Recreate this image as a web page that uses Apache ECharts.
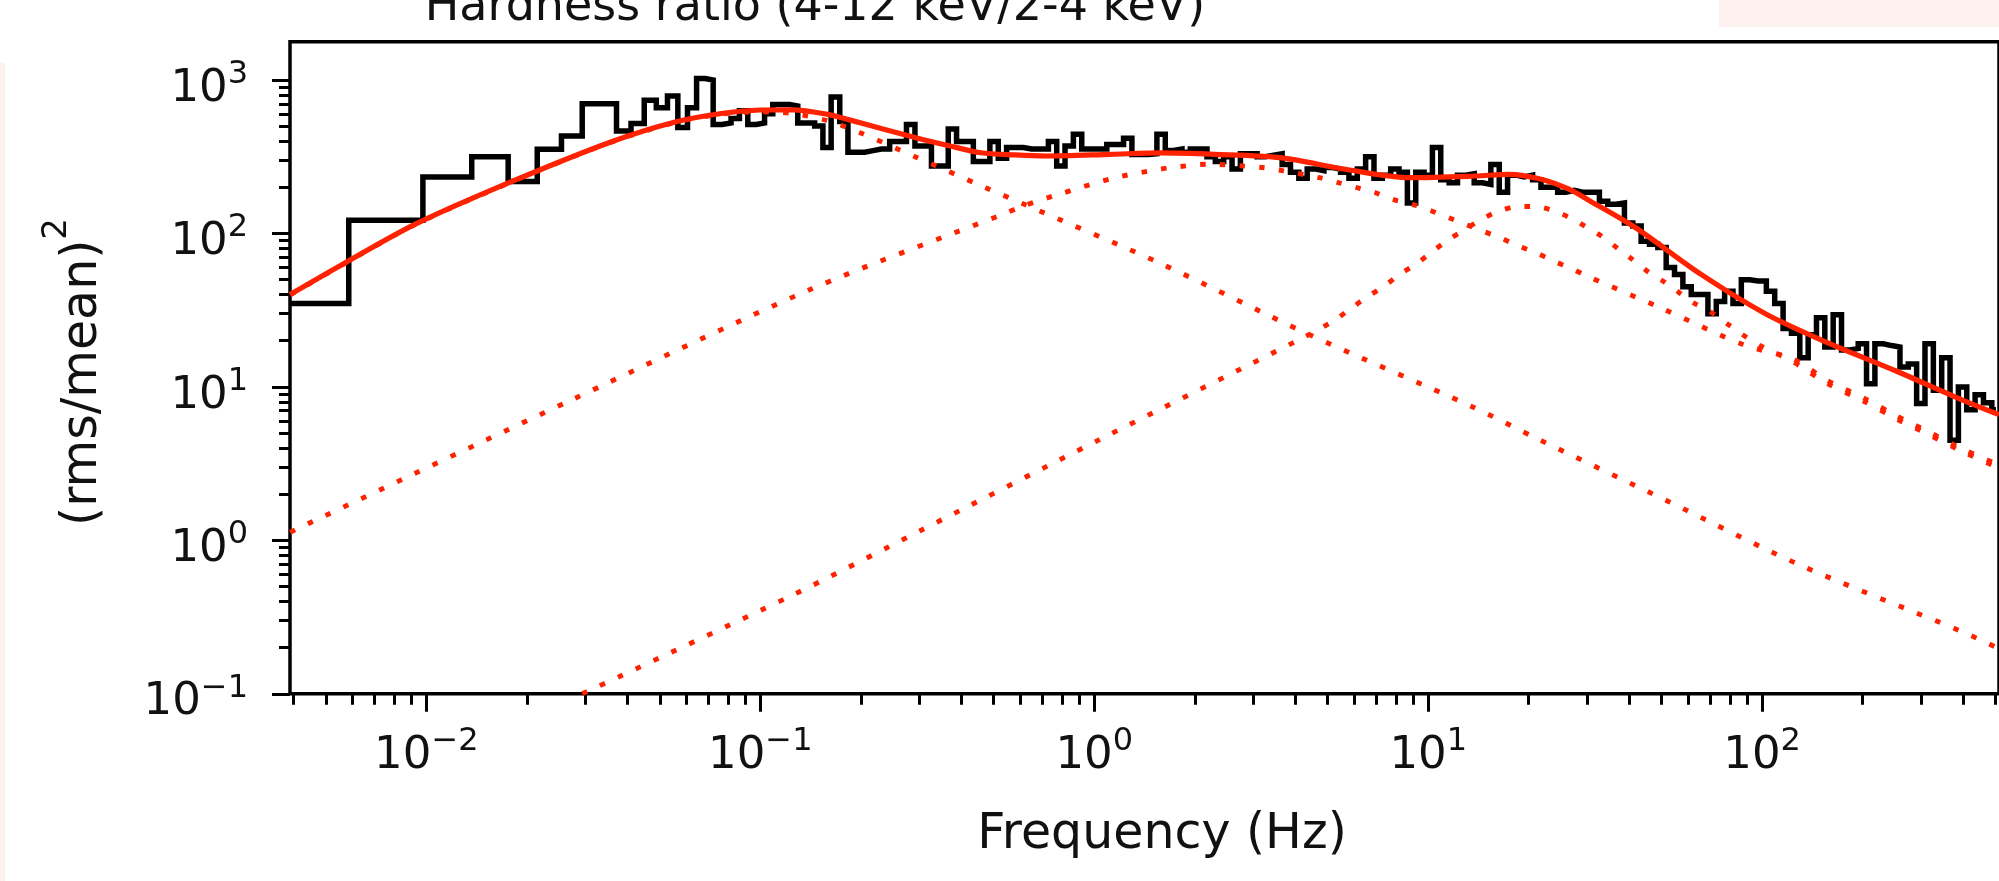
<!DOCTYPE html>
<html>
<head>
<meta charset="utf-8">
<script src="https://cdn.jsdelivr.net/npm/echarts@6/dist/echarts.min.js"></script>
<style>
  html, body { margin: 0; padding: 0; background: #ffffff; }
  #chart { width: 1999px; height: 881px; }
</style>
</head>
<body>
<div id="chart"></div>
<script>
// ---- power spectrum (bin centre frequency in Hz, power in (rms/mean)^2) ----
const PSD_FREQ = [
  0.00390625, 0.00781, 0.01172, 0.01563, 0.01953, 0.02344, 0.02734, 0.03125, 0.03516, 0.03906,
  0.04297, 0.04688, 0.05078, 0.05469, 0.05859, 0.0625, 0.06641, 0.07031, 0.07422,
  0.0794, 0.0841, 0.0891, 0.0944, 0.100, 0.106, 0.112, 0.119, 0.126, 0.133,
  0.141, 0.150, 0.158, 0.168, 0.178, 0.188, 0.200, 0.211, 0.224, 0.237,
  0.251, 0.266, 0.282, 0.299, 0.316, 0.335, 0.355, 0.376, 0.398, 0.422,
  0.447, 0.473, 0.501, 0.531, 0.562, 0.596, 0.631, 0.668, 0.708, 0.750,
  0.794, 0.841, 0.891, 0.944, 1.000, 1.059, 1.122, 1.189, 1.259, 1.334,
  1.413, 1.496, 1.585, 1.679, 1.778, 1.884, 1.995, 2.113, 2.239, 2.371,
  2.512, 2.661, 2.818, 2.985, 3.162, 3.350, 3.548, 3.758, 3.981, 4.217,
  4.467, 4.732, 5.012, 5.309, 5.623, 5.957, 6.310, 6.683, 7.079, 7.499,
  7.943, 8.414, 8.913, 9.441, 10.00, 10.59, 11.22, 11.89, 12.59, 13.34,
  14.13, 14.96, 15.85, 16.79, 17.78, 18.84, 19.95, 21.13, 22.39, 23.71,
  25.12, 26.61, 28.18, 29.85, 31.62, 33.50, 35.48, 37.58, 39.81, 42.17,
  44.67, 47.32, 50.12, 53.09, 56.23, 59.57, 63.10, 66.83, 70.79, 74.99,
  79.43, 84.14, 89.13, 94.41, 100.0, 105.9, 112.2, 118.9, 125.9, 133.4,
  141.3, 149.6, 158.5, 167.9, 177.8, 188.4, 199.5, 211.3, 223.9, 237.1,
  251.2, 266.1, 281.8, 298.5, 316.2, 335.0, 354.8, 375.8, 398.1, 421.7,
  446.7, 473.2, 501.2
];
const PSD_POWER = [
  35, 122, 233, 316, 218, 354, 432, 701, 701, 466,
  520, 738, 661, 787, 490, 661, 1023, 1000, 513,
  525, 562, 631, 513, 525, 603, 692, 692, 676, 525,
  525, 501, 363, 776, 537, 339, 339, 347, 355, 355,
  398, 398, 513, 372, 372, 275, 275, 479, 398, 398,
  295, 295, 398, 309, 363, 363, 355, 355, 355, 398,
  275, 372, 443, 355, 355, 355, 380, 380, 417, 327,
  327, 331, 443, 347, 355, 339, 355, 355, 316, 295,
  316, 263, 331, 331, 316, 324, 331, 282, 251, 229,
  263, 257, 269, 263, 251, 229, 263, 316, 229, 240,
  263, 251, 158, 251, 240, 363, 224, 214, 240, 245,
  214, 209, 282, 186, 240, 234, 240, 224, 200, 200,
  186, 191, 186, 186, 186, 162, 155, 158, 117, 112,
  89, 85, 81, 60, 54, 45, 40, 40, 30, 36,
  42, 35, 50, 49, 49, 42, 35, 24, 22.4, 15.5,
  21.9, 28.2, 18.2, 29.5, 17.4, 17.8, 19.1, 10.5, 19.1, 18.6,
  18.2, 13.5, 14.1, 7.8, 19.1, 9.5, 15.5, 4.5, 10, 7.1,
  8.9, 7.9, 7.1
];

// ---- fitted model: total and its three Lorentzian components ----
const MODEL_FREQ = [
  0.00391, 0.00562, 0.00927, 0.0182, 0.0357, 0.056, 0.0783, 0.100, 0.125, 0.158,
  0.186, 0.233, 0.292, 0.370, 0.457, 0.580, 0.716, 1.12, 1.58, 2.29,
  3.61, 5.65, 8.87, 13.9, 17.4, 21.8, 26.3, 30.5, 41.8, 65.5,
  102.6, 160.7, 251.8, 391.7, 512
];
const MODEL_TOTAL = [
  40, 63, 115, 220, 395, 535, 610, 638, 640, 600,
  548, 479, 421, 372, 336, 325, 320, 328, 335, 328,
  312, 262, 231, 237, 243, 226, 195, 163, 109, 54.3,
  29.9, 19.0, 12.7, 8.34, 6.6
];

const LOW_FREQ = [
  0.00391, 0.00562, 0.00927, 0.0182, 0.0357, 0.056, 0.0783, 0.100, 0.125, 0.158,
  0.199, 0.292, 0.473, 0.612, 1.55, 4.39, 13.6, 21.2, 52.2, 128,
  392, 512
];
const LOW_POWER = [
  39.8, 62.7, 114.5, 219, 393, 531, 603, 620, 605, 545,
  454, 315, 199, 156, 65, 22, 7.4, 4.6, 1.8, 0.70,
  0.257, 0.197
];

const MID_FREQ = [
  0.00391, 0.0268, 0.142, 0.535, 0.612, 0.783, 1.135, 1.47, 1.68, 2.2,
  2.82, 3.23, 3.69, 4.72, 5.41, 6.12, 6.92, 7.83, 8.97, 10.1,
  11.5, 12.9, 14.5, 16.4, 18.6, 21.0, 23.8, 26.9, 29.8, 48.8,
  88.7, 123, 157, 201, 252, 315, 392, 512
];
const MID_POWER = [
  1.13, 8.1, 43.4, 134, 151, 180, 229, 256, 268, 283,
  275, 268, 256, 231, 214, 199, 185, 167, 155, 142,
  127, 115, 104, 94, 83, 75, 66, 59, 53, 33.3,
  18.7, 15.3, 11.0, 8.5, 6.5, 5.1, 4.0, 3.1
];

const HIGH_FREQ = [
  0.0293, 0.125, 0.300, 1.03, 4.23, 5.22, 5.92, 6.62, 7.41, 8.2,
  9.18, 10.2, 11.4, 12.7, 14.2, 15.9, 18.2, 20.6, 23.5, 26.5,
  29.8, 33.3, 37.2, 40.8, 45.7, 51.2, 56.6, 62.7, 70.1, 80.2,
  87.7, 98, 123, 157, 201, 252, 315, 392, 512
];
const HIGH_POWER = [
  0.1, 0.44, 1.15, 4.5, 21, 27, 33, 39, 45.6, 54,
  63, 75, 90, 104, 121, 137, 149, 150, 142, 127,
  110, 95, 79, 68, 56, 48, 41, 35, 30.8, 25,
  21.8, 18.7, 14.7, 10.5, 8.1, 6.2, 4.9, 3.85, 2.95
];

// ---- axes ----
const X_MIN = 0.00390625, X_MAX = 512;
const Y_MIN = 0.1, Y_MAX = 1778;
const X_MAJOR = [0.01, 0.1, 1, 10, 100];
const X_MINOR = [
  0.004, 0.005, 0.006, 0.007, 0.008, 0.009,
  0.02, 0.03, 0.04, 0.05, 0.06, 0.07, 0.08, 0.09,
  0.2, 0.3, 0.4, 0.5, 0.6, 0.7, 0.8, 0.9,
  2, 3, 4, 5, 6, 7, 8, 9,
  20, 30, 40, 50, 60, 70, 80, 90,
  200, 300, 400, 500
];
const Y_MAJOR = [0.1, 1, 10, 100, 1000];
const Y_MINOR = [
  0.2, 0.3, 0.4, 0.5, 0.6, 0.7, 0.8, 0.9,
  2, 3, 4, 5, 6, 7, 8, 9,
  20, 30, 40, 50, 60, 70, 80, 90,
  200, 300, 400, 500, 600, 700, 800, 900
];

const FONT = 'DejaVu Sans';
const INK = '#111111';
const RED = '#ff2200';

// bins drawn as 'steps-mid': each level reaches halfway (linearly) to its neighbours
function midSteps(freq, power) {
  const pts = [];
  for (let i = 0; i < freq.length; i++) {
    const lo = i === 0 ? freq[0] : (freq[i - 1] + freq[i]) / 2;
    const hi = i === freq.length - 1 ? freq[i] : (freq[i] + freq[i + 1]) / 2;
    pts.push([lo, power[i]], [hi, power[i]]);
  }
  return pts;
}
const pairs = (x, y) => x.map((v, i) => [v, y[i]]);

// "10" with a raised exponent; both tokens fill the same line box so the
// exponent offset does not depend on token alignment
function decadeLabel(v) {
  const e = Math.round(Math.log10(v));
  return '{b|10}{s|' + (e < 0 ? '\u2212' + (-e) : String(e)) + '}';
}
const tickRich = {
  b: { fontFamily: FONT, fontSize: 45, lineHeight: 45, color: INK, padding: [18, 0, 0, 0] },
  s: { fontFamily: FONT, fontSize: 32, lineHeight: 32, color: INK, padding: [10, 0, 21, 0] }
};

function logAxis(min, max, pos, ticks, len, labels, margin) {
  return {
    type: 'log', logBase: 10, min: min, max: max, position: pos,
    axisLine: { show: false },
    splitLine: { show: false },
    axisTick: { show: true, inside: false, length: len, customValues: ticks,
                lineStyle: { color: '#000', width: 3 } },
    axisLabel: labels ? { show: true, customValues: ticks, margin: margin,
                          formatter: decadeLabel, rich: tickRich }
                      : { show: false }
  };
}

const dotted = { type: [5.5, 14.2], width: 4.9, color: RED, cap: 'butt' };

const chart = echarts.init(document.getElementById('chart'), null, { renderer: 'canvas' });
chart.setOption({
  animation: false,
  backgroundColor: '#ffffff',
  grid: {
    left: 290, top: 41.7, width: 1748.3, height: 652.1,
    show: true, borderColor: '#000', borderWidth: 3.5, backgroundColor: 'transparent',
    containLabel: false
  },
  xAxis: [
    logAxis(X_MIN, X_MAX, 'bottom', X_MAJOR, 18, true, 31),
    logAxis(X_MIN, X_MAX, 'bottom', X_MINOR, 11, false, 0)
  ],
  yAxis: [
    logAxis(Y_MIN, Y_MAX, 'left', Y_MAJOR, 18, true, 42),
    logAxis(Y_MIN, Y_MAX, 'left', Y_MINOR, 11, false, 0)
  ],
  series: [
    { type: 'line', data: midSteps(PSD_FREQ, PSD_POWER), symbol: 'none', clip: true,
      lineStyle: { color: '#000', width: 5.5, join: 'miter' }, z: 2, silent: true },
    { type: 'line', data: pairs(LOW_FREQ, LOW_POWER), symbol: 'none', smooth: 0.3, clip: true,
      lineStyle: dotted, z: 3, silent: true },
    { type: 'line', data: pairs(MID_FREQ, MID_POWER), symbol: 'none', smooth: 0.3, clip: true,
      lineStyle: dotted, z: 3, silent: true },
    { type: 'line', data: pairs(HIGH_FREQ, HIGH_POWER), symbol: 'none', smooth: 0.3, clip: true,
      lineStyle: dotted, z: 3, silent: true },
    { type: 'line', data: pairs(MODEL_FREQ, MODEL_TOTAL), symbol: 'none', smooth: 0.3, clip: true,
      lineStyle: { color: RED, width: 5.2 }, z: 4, silent: true }
  ],
  graphic: [
    { type: 'rect', shape: { x: 0, y: 63, width: 5, height: 818 }, style: { fill: '#fdf2ef' }, silent: true },
    { type: 'rect', shape: { x: 1719, y: 0, width: 280, height: 27 }, style: { fill: '#fdf2ef' }, silent: true },
    { type: 'text', x: 815, y: 8, silent: true,
      style: { text: 'Hardness ratio (4-12 keV/2-4 keV)', fontFamily: FONT, fontSize: 46,
               fill: INK, align: 'center', verticalAlign: 'middle' } },
    { type: 'text', x: 1162, y: 835.5, silent: true,
      style: { text: 'Frequency (Hz)', fontFamily: FONT, fontSize: 49,
               fill: INK, align: 'center', verticalAlign: 'middle' } },
    { type: 'text', x: 74, y: 372, rotation: Math.PI / 2, silent: true,
      style: { text: '{b|(rms/mean)}{s|2}', align: 'center', verticalAlign: 'middle',
               rich: {
                 b: { fontFamily: FONT, fontSize: 49, lineHeight: 49, fill: INK, padding: [19, 0, 0, 0] },
                 s: { fontFamily: FONT, fontSize: 34, lineHeight: 34, fill: INK, padding: [0, 0, 34, 0] }
               } } }
  ]
});
</script>
</body>
</html>
